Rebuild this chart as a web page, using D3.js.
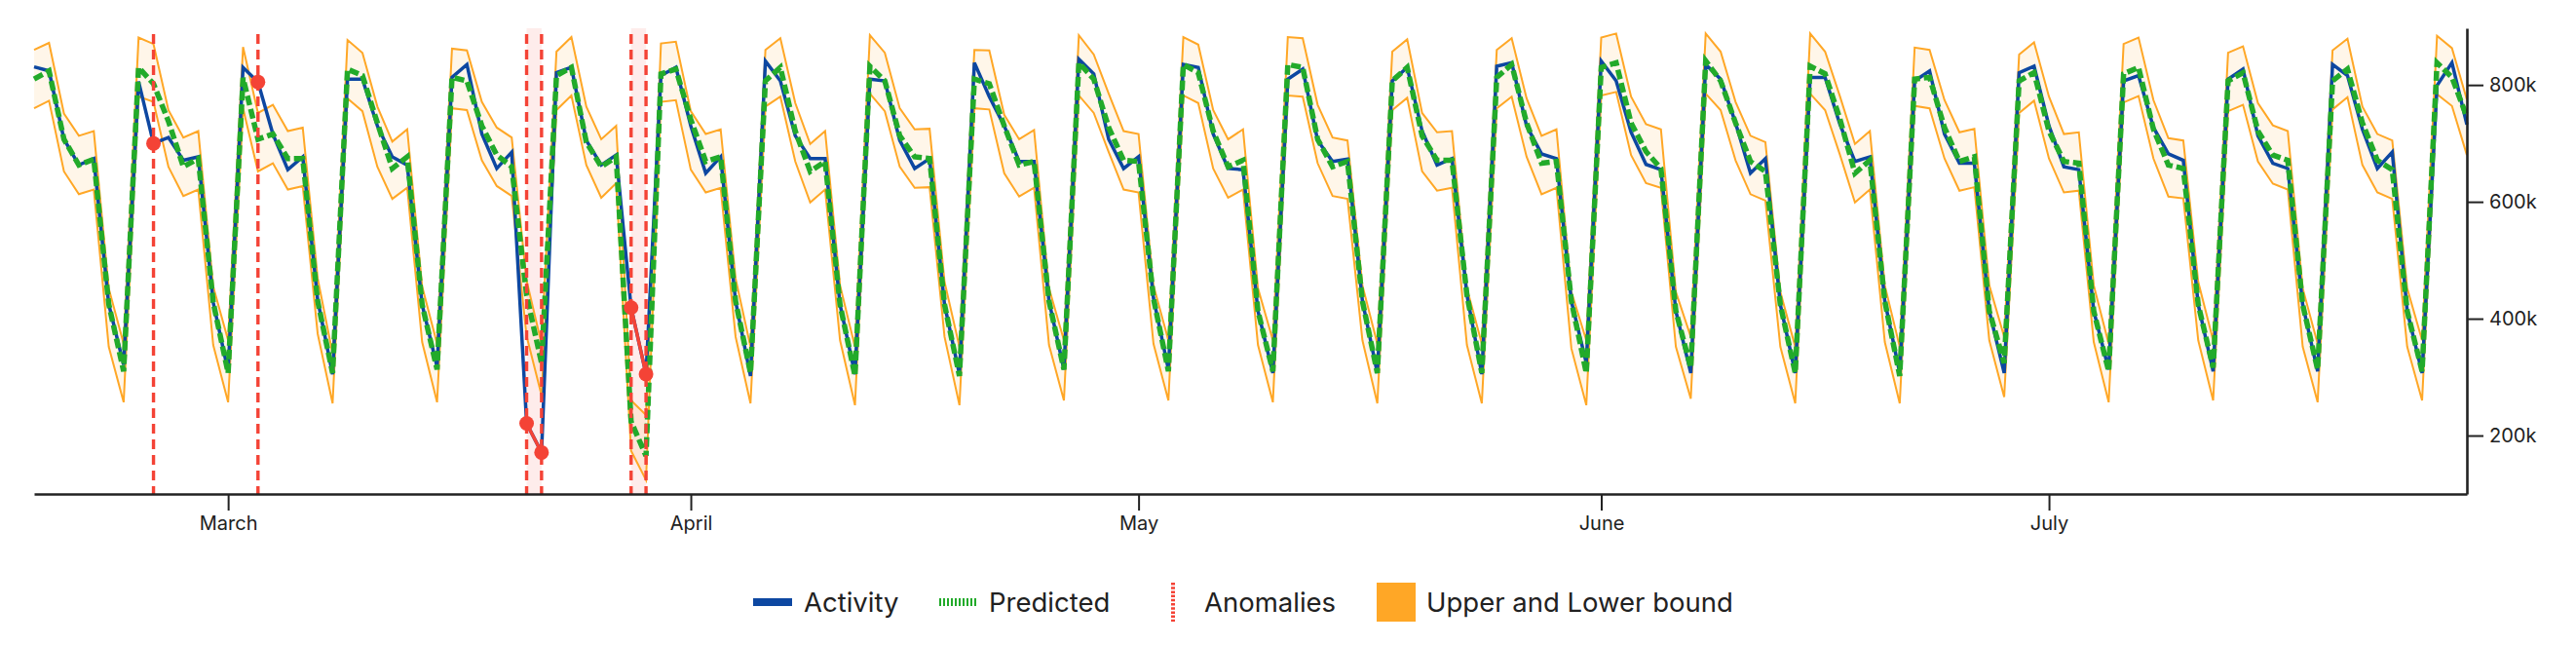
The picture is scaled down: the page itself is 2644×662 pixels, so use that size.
<!DOCTYPE html>
<html>
<head>
<meta charset="utf-8">
<script src="https://cdn.jsdelivr.net/npm/d3@7"></script>
<style>
  body { margin: 0; background: #fff; }
  svg text { font-family: Inter, "Noto Sans", sans-serif; fill: #212121; }
</style>
</head>
<body>
<svg id="chart" width="2644" height="662"></svg>
<script>
// ---- data (values in thousands) ----
const startDay = "2026-02-16";
const activity = [
831,824,707,663,674,425,321, 806,700,710,671,677,428,310, 830,805,716,655,677,432,305,
810,810,730,677,663,424,318, 813,835,716,657,685,221,171, 821,830,705,663,680,419,305,
816,830,730,649,677,430,302, 841,807,713,674,674,424,305, 810,807,705,657,674,424,305,
838,780,730,669,669,430,313, 844,819,707,657,677,435,313, 835,830,716,657,655,413,307,
810,827,705,669,673,430,307, 807,830,721,663,674,441,305, 832,838,730,682,674,430,324,
841,807,719,664,655,413,307, 835,810,735,649,674,424,307, 813,813,732,669,677,430,307,
807,824,716,666,666,413,307, 821,832,730,660,655,413,313, 807,816,727,682,671,424,310,
810,827,713,666,657,424,310, 835,816,724,657,685,413,307, 799,838,732
];
const predicted = [
810,824,707,663,673,425,310, 830,802,738,660,674,428,307, 812,707,716,674,674,430,307,
827,816,735,657,677,424,313, 813,807,730,680,660,440,324, 816,830,702,660,677,224,165,
819,827,741,669,677,430,307, 807,830,721,652,669,424,302, 832,807,713,677,674,424,302,
810,802,730,663,669,430,313, 838,810,727,671,669,435,310, 835,821,721,660,671,413,310,
835,830,707,660,669,430,307, 807,830,713,671,671,441,307, 813,835,735,666,669,430,307,
830,838,735,686,657,413,316, 841,807,735,669,652,424,307, 832,819,741,649,671,430,302,
810,813,727,669,677,413,324, 807,821,721,669,666,413,310, 819,830,724,663,657,424,316,
807,821,721,680,671,424,313, 807,827,735,671,655,413,310, 838,813,745
];
const upper = [
860,872,751,713,721,452,357, 881,870,757,710,721,455,363, 865,752,766,721,727,469,340,
877,855,763,703,724,455,357, 862,859,771,727,710,465,357, 857,882,763,707,730,260,235,
871,874,755,716,724,469,352, 860,880,769,699,721,457,352, 885,855,760,724,725,463,352,
860,859,749,707,723,452,363, 885,852,785,721,716,457,363, 882,869,757,707,724,452,363,
882,880,766,710,705,457,357, 857,878,752,719,721,452,357, 860,880,777,713,724,446,363,
881,888,780,733,724,446,369, 888,857,771,713,702,446,352, 888,857,780,699,721,457,352,
864,860,774,719,725,457,369, 852,873,780,716,719,457,357, 870,881,774,709,705,463,363,
855,866,769,731,721,452,357, 859,879,763,716,705,452,363, 884,863,775
];
const lower = [
760,773,652,613,621,352,257, 780,771,660,610,621,355,257, 760,652,666,621,627,374,255,
777,755,660,605,624,360,257, 760,757,671,627,610,370,269, 757,782,663,607,632,174,124,
771,774,655,616,624,369,255, 763,780,669,599,621,363,252, 785,755,660,624,625,369,252,
760,758,649,609,624,355,260, 782,752,685,621,616,357,260, 782,769,657,607,621,355,257,
782,780,666,610,605,363,255, 757,778,652,619,624,355,255, 760,780,677,613,624,349,252,
782,788,680,632,624,352,263, 785,757,671,613,602,352,255, 785,757,680,599,621,360,255,
764,760,674,619,625,363,266, 752,773,674,616,619,360,257, 770,781,674,609,606,363,260,
755,766,669,631,621,352,257, 758,779,663,616,605,352,260, 784,764,680
];
const anomalyIndex = [8, 15, 33, 34, 40, 41];
const yTickValues = [200, 400, 600, 800];
const legendLabels = ["Activity", "Predicted", "Anomalies", "Upper and Lower bound"];

// ---- colours ----
const C = { act: "#0d47a1", pred: "#22aa2a", anom: "#f44336", band: "#ffa726", text: "#212121", axis: "#222" };

const t0 = d3.timeParse("%Y-%m-%d")(startDay);
const data = activity.map((a, i) => ({
  date: d3.timeDay.offset(t0, i), a, p: predicted[i], u: upper[i], l: lower[i],
  anom: anomalyIndex.includes(i)
}));

const svg = d3.select("#chart");
const x = d3.scaleTime().domain(d3.extent(data, d => d.date)).range([35, 2532]);
const y = d3.scaleLinear().domain([100, 897]).range([507, 29]);

// anomaly runs (consecutive days)
const runs = [];
anomalyIndex.forEach(i => {
  const last = runs[runs.length - 1];
  if (last && last[last.length - 1] === i - 1) last.push(i); else runs.push([i]);
});

const g = svg.append("g");

// shaded anomaly runs
g.selectAll("rect.run").data(runs).join("rect").attr("class", "run")
  .attr("x", r => x(data[r[0]].date))
  .attr("width", r => x(data[r[r.length - 1]].date) - x(data[r[0]].date))
  .attr("y", y.range()[1]).attr("height", y.range()[0] - y.range()[1])
  .attr("fill", C.anom).attr("fill-opacity", 0.1);

// band
g.append("path").datum(data)
  .attr("d", d3.area().x(d => x(d.date)).y0(d => y(d.l)).y1(d => y(d.u)))
  .attr("fill", C.band).attr("fill-opacity", 0.1);
["u", "l"].forEach(k => {
  g.append("path").datum(data)
    .attr("d", d3.line().x(d => x(d.date)).y(d => y(d[k])))
    .attr("fill", "none").attr("stroke", C.band).attr("stroke-width", 2);
});

// activity
g.append("path").datum(data)
  .attr("d", d3.line().x(d => x(d.date)).y(d => y(d.a)))
  .attr("fill", "none").attr("stroke", C.act).attr("stroke-width", 3.5).attr("stroke-linejoin", "miter");

// predicted
g.append("path").datum(data)
  .attr("d", d3.line().x(d => x(d.date)).y(d => y(d.p)))
  .attr("fill", "none").attr("stroke", C.pred).attr("stroke-width", 5.5)
  .attr("stroke-dasharray", "10,4");

// anomaly vertical lines
g.selectAll("line.anom").data(data.filter(d => d.anom)).join("line").attr("class", "anom")
  .attr("x1", d => x(d.date)).attr("x2", d => x(d.date))
  .attr("y1", y.range()[1] + 6).attr("y2", y.range()[0])
  .attr("stroke", C.anom).attr("stroke-width", 3.4).attr("stroke-dasharray", "10,6");

// connecting line of consecutive anomalies
g.append("path").datum(data)
  .attr("d", d3.line().defined(d => d.anom).x(d => x(d.date)).y(d => y(d.a)))
  .attr("fill", "none").attr("stroke", C.anom).attr("stroke-width", 3.4);

g.selectAll("circle.anom").data(data.filter(d => d.anom)).join("circle").attr("class", "anom")
  .attr("cx", d => x(d.date)).attr("cy", d => y(d.a)).attr("r", 7.5).attr("fill", C.anom);

// axes
const xAxis = svg.append("g").attr("transform", "translate(0,507)")
  .call(d3.axisBottom(x).ticks(d3.timeMonth.every(1)).tickFormat(d3.timeFormat("%B"))
    .tickSize(17).tickPadding(6).tickSizeOuter(0));
const yAxis = svg.append("g").attr("transform", "translate(2532,0)")
  .call(d3.axisRight(y).tickValues(yTickValues).tickFormat(d => d + "k")
    .tickSize(17).tickPadding(6).tickSizeOuter(0));
[xAxis, yAxis].forEach(a => {
  a.select(".domain").attr("stroke", C.axis).attr("stroke-width", 2.6);
  a.selectAll(".tick line").attr("stroke", C.axis).attr("stroke-width", 2);
  a.selectAll(".tick text").attr("font-size", 20).attr("fill", C.text)
    .style("font-family", "Inter, 'Noto Sans', sans-serif");
});

// legend
const L = svg.append("g");
const ly = 618;
L.append("rect").attr("x", 773).attr("y", ly - 4).attr("width", 40).attr("height", 8).attr("fill", C.act);
L.append("line").attr("x1", 964).attr("x2", 1004).attr("y1", ly).attr("y2", ly)
  .attr("stroke", C.pred).attr("stroke-width", 8).attr("stroke-dasharray", "2,2");
L.append("line").attr("x1", 1204).attr("x2", 1204).attr("y1", ly - 20).attr("y2", ly + 20)
  .attr("stroke", C.anom).attr("stroke-width", 4).attr("stroke-dasharray", "2.5,1.7");
L.append("rect").attr("x", 1413).attr("y", ly - 20).attr("width", 40).attr("height", 40).attr("fill", C.band);
const lx = [825, 1015, 1236, 1464];
L.selectAll("text").data(legendLabels).join("text")
  .attr("x", (d, i) => lx[i]).attr("y", 628).attr("font-size", 27.5).text(d => d);
</script>
</body>
</html>
